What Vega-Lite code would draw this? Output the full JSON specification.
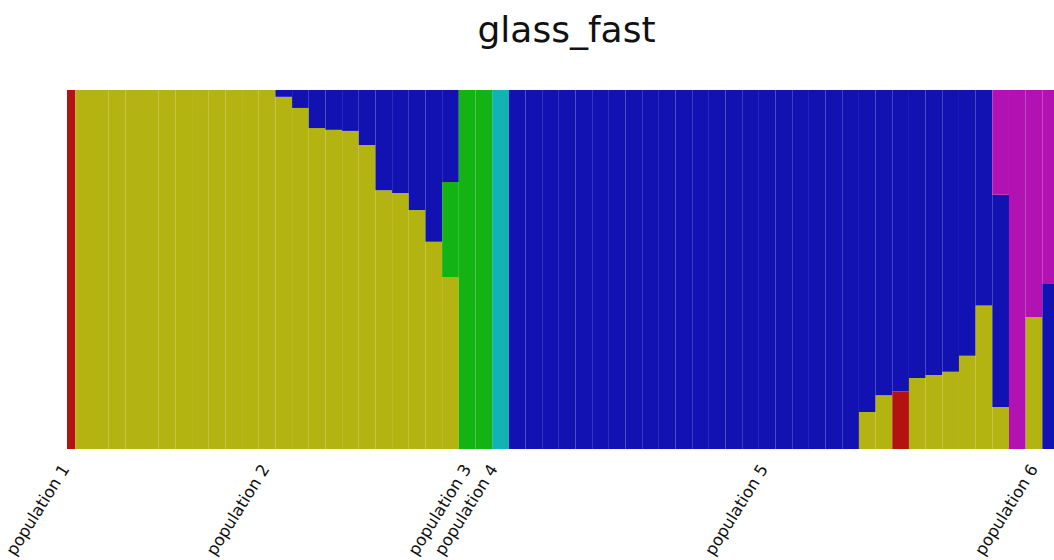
{
  "$schema": "https://vega.github.io/schema/vega-lite/v6.json",
  "autosize": {"type": "none"},
  "padding": {"left": 67, "top": 90, "right": 0, "bottom": 111},
  "width": 987,
  "height": 359,
  "background": "white",
  "title": {"text": "glass_fast", "font": "DejaVu Sans", "fontSize": 36, "fontWeight": "normal", "color": "#111111", "anchor": "middle", "offset": 40, "dx": 6},
  "config": {"view": {"stroke": null}},
  "data": {"values": [
    {"ind": 0, "cluster": "K1", "q": 1.0},
    {"ind": 1, "cluster": "K2", "q": 1.0},
    {"ind": 2, "cluster": "K2", "q": 1.0},
    {"ind": 3, "cluster": "K2", "q": 1.0},
    {"ind": 4, "cluster": "K2", "q": 1.0},
    {"ind": 5, "cluster": "K2", "q": 1.0},
    {"ind": 6, "cluster": "K2", "q": 1.0},
    {"ind": 7, "cluster": "K2", "q": 1.0},
    {"ind": 8, "cluster": "K2", "q": 1.0},
    {"ind": 9, "cluster": "K2", "q": 1.0},
    {"ind": 10, "cluster": "K2", "q": 1.0},
    {"ind": 11, "cluster": "K2", "q": 1.0},
    {"ind": 12, "cluster": "K2", "q": 1.0},
    {"ind": 13, "cluster": "K2", "q": 0.981},
    {"ind": 13, "cluster": "K5", "q": 0.019},
    {"ind": 14, "cluster": "K2", "q": 0.95},
    {"ind": 14, "cluster": "K5", "q": 0.05},
    {"ind": 15, "cluster": "K2", "q": 0.894},
    {"ind": 15, "cluster": "K5", "q": 0.106},
    {"ind": 16, "cluster": "K2", "q": 0.889},
    {"ind": 16, "cluster": "K5", "q": 0.111},
    {"ind": 17, "cluster": "K2", "q": 0.886},
    {"ind": 17, "cluster": "K5", "q": 0.114},
    {"ind": 18, "cluster": "K2", "q": 0.847},
    {"ind": 18, "cluster": "K5", "q": 0.153},
    {"ind": 19, "cluster": "K2", "q": 0.721},
    {"ind": 19, "cluster": "K5", "q": 0.279},
    {"ind": 20, "cluster": "K2", "q": 0.713},
    {"ind": 20, "cluster": "K5", "q": 0.287},
    {"ind": 21, "cluster": "K2", "q": 0.666},
    {"ind": 21, "cluster": "K5", "q": 0.334},
    {"ind": 22, "cluster": "K2", "q": 0.577},
    {"ind": 22, "cluster": "K5", "q": 0.423},
    {"ind": 23, "cluster": "K2", "q": 0.479},
    {"ind": 23, "cluster": "K3", "q": 0.265},
    {"ind": 23, "cluster": "K5", "q": 0.256},
    {"ind": 24, "cluster": "K3", "q": 1.0},
    {"ind": 25, "cluster": "K3", "q": 1.0},
    {"ind": 26, "cluster": "K4", "q": 1.0},
    {"ind": 27, "cluster": "K5", "q": 1.0},
    {"ind": 28, "cluster": "K5", "q": 1.0},
    {"ind": 29, "cluster": "K5", "q": 1.0},
    {"ind": 30, "cluster": "K5", "q": 1.0},
    {"ind": 31, "cluster": "K5", "q": 1.0},
    {"ind": 32, "cluster": "K5", "q": 1.0},
    {"ind": 33, "cluster": "K5", "q": 1.0},
    {"ind": 34, "cluster": "K5", "q": 1.0},
    {"ind": 35, "cluster": "K5", "q": 1.0},
    {"ind": 36, "cluster": "K5", "q": 1.0},
    {"ind": 37, "cluster": "K5", "q": 1.0},
    {"ind": 38, "cluster": "K5", "q": 1.0},
    {"ind": 39, "cluster": "K5", "q": 1.0},
    {"ind": 40, "cluster": "K5", "q": 1.0},
    {"ind": 41, "cluster": "K5", "q": 1.0},
    {"ind": 42, "cluster": "K5", "q": 1.0},
    {"ind": 43, "cluster": "K5", "q": 1.0},
    {"ind": 44, "cluster": "K5", "q": 1.0},
    {"ind": 45, "cluster": "K5", "q": 1.0},
    {"ind": 46, "cluster": "K5", "q": 1.0},
    {"ind": 47, "cluster": "K5", "q": 1.0},
    {"ind": 48, "cluster": "K2", "q": 0.103},
    {"ind": 48, "cluster": "K5", "q": 0.897},
    {"ind": 49, "cluster": "K2", "q": 0.15},
    {"ind": 49, "cluster": "K5", "q": 0.85},
    {"ind": 50, "cluster": "K1", "q": 0.16},
    {"ind": 50, "cluster": "K5", "q": 0.84},
    {"ind": 51, "cluster": "K2", "q": 0.198},
    {"ind": 51, "cluster": "K5", "q": 0.802},
    {"ind": 52, "cluster": "K2", "q": 0.206},
    {"ind": 52, "cluster": "K5", "q": 0.794},
    {"ind": 53, "cluster": "K2", "q": 0.215},
    {"ind": 53, "cluster": "K5", "q": 0.785},
    {"ind": 54, "cluster": "K2", "q": 0.26},
    {"ind": 54, "cluster": "K5", "q": 0.74},
    {"ind": 55, "cluster": "K2", "q": 0.4},
    {"ind": 55, "cluster": "K5", "q": 0.6},
    {"ind": 56, "cluster": "K2", "q": 0.117},
    {"ind": 56, "cluster": "K5", "q": 0.591},
    {"ind": 56, "cluster": "K6", "q": 0.292},
    {"ind": 57, "cluster": "K6", "q": 1.0},
    {"ind": 58, "cluster": "K2", "q": 0.368},
    {"ind": 58, "cluster": "K6", "q": 0.632},
    {"ind": 59, "cluster": "K5", "q": 0.462},
    {"ind": 59, "cluster": "K6", "q": 0.538}
  ]},
  "mark": {"type": "bar", "width": 16.67, "clip": true},
  "encoding": {
    "x": {
      "field": "ind", "type": "quantitative",
      "scale": {"domain": [0, 59.2], "nice": false, "zero": false, "padding": 0},
      "axis": {
        "values": [0.3, 12.3, 24.4, 26.0, 42.2, 58.4],
        "labelExpr": "datum.value < 1 ? 'population 1' : datum.value < 13 ? 'population 2' : datum.value < 25 ? 'population 3' : datum.value < 30 ? 'population 4' : datum.value < 50 ? 'population 5' : 'population 6'",
        "labelAngle": -58,
        "labelAlign": "right",
        "labelBaseline": "bottom",
        "labelPadding": 21,
        "labelFont": "DejaVu Sans",
        "labelFontSize": 16.5,
        "labelColor": "#111111",
        "labelOverlap": false,
        "labelFlush": false,
        "labelBound": false,
        "domain": false,
        "ticks": false,
        "grid": false,
        "title": null
      }
    },
    "y": {
      "field": "q", "type": "quantitative", "stack": "zero",
      "scale": {"domain": [0, 1], "nice": false},
      "axis": null
    },
    "color": {
      "field": "cluster", "type": "nominal",
      "scale": {"domain": ["K1", "K2", "K3", "K4", "K5", "K6"], "range": ["#b31212", "#b3b312", "#12b312", "#12b3b3", "#1212b3", "#b312b3"]},
      "legend": null
    },
    "order": {"field": "cluster", "type": "ordinal", "sort": "ascending"}
  }
}
